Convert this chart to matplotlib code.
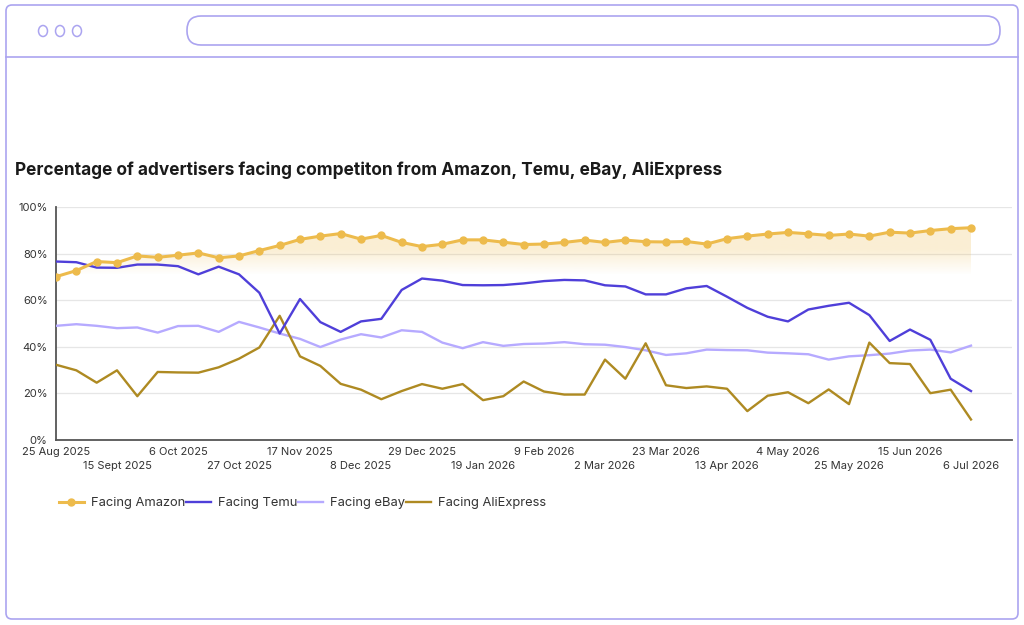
import numpy as np
import matplotlib
matplotlib.use("Agg")
import matplotlib.pyplot as plt
from matplotlib.patches import FancyBboxPatch, Ellipse, Polygon

plt.rcParams['font.family'] = ['Inter', 'DejaVu Sans']

# weekly data, 25 Aug 2025 -> 6 Jul 2026
week_labels = ["25 Aug 2025", "15 Sept 2025", "6 Oct 2025", "27 Oct 2025", "17 Nov 2025",
               "8 Dec 2025", "29 Dec 2025", "19 Jan 2026", "9 Feb 2026", "2 Mar 2026",
               "23 Mar 2026", "13 Apr 2026", "4 May 2026", "25 May 2026", "15 Jun 2026",
               "6 Jul 2026"]

amazon = [70.1, 72.7, 76.6, 76.1, 79.0, 78.4, 79.3, 80.3, 78.2, 79.0,
          81.3, 83.5, 86.1, 87.5, 88.6, 86.2, 87.8, 84.8, 83.0, 84.0,
          85.9, 85.9, 84.9, 83.9, 84.1, 84.8, 85.8, 84.8, 85.8, 85.1,
          85.0, 85.2, 84.1, 86.4, 87.5, 88.4, 89.1, 88.5, 87.8, 88.4,
          87.5, 89.2, 88.8, 89.9, 90.7, 91.1]
temu = [76.6, 76.3, 74.0, 73.9, 75.3, 75.3, 74.6, 71.1, 74.4, 71.1,
        63.2, 45.7, 60.5, 50.6, 46.4, 50.9, 52.0, 64.4, 69.3, 68.4,
        66.5, 66.4, 66.5, 67.2, 68.2, 68.7, 68.5, 66.4, 65.9, 62.5,
        62.5, 65.1, 66.1, 61.5, 56.7, 52.9, 50.9, 56.0, 57.6, 58.9,
        53.6, 42.5, 47.4, 43.0, 26.3, 21.0]
ebay = [49.0, 49.7, 49.0, 48.0, 48.3, 46.1, 48.9, 49.0, 46.4, 50.7,
        48.3, 45.7, 43.4, 39.9, 43.1, 45.4, 44.0, 47.1, 46.4, 41.8,
        39.4, 42.0, 40.4, 41.2, 41.4, 42.0, 41.1, 40.9, 39.9, 38.5,
        36.5, 37.2, 38.8, 38.6, 38.5, 37.5, 37.2, 36.8, 34.5, 35.9,
        36.4, 37.1, 38.4, 38.8, 37.6, 40.5]
aliexpress = [32.3, 29.9, 24.6, 29.9, 18.8, 29.2, 29.0, 28.9, 31.2, 34.9,
              39.7, 53.3, 35.9, 31.8, 24.1, 21.6, 17.5, 21.0, 24.0, 22.0,
              24.0, 17.1, 18.8, 25.1, 20.8, 19.5, 19.5, 34.5, 26.3, 41.5,
              23.5, 22.3, 23.0, 22.0, 12.4, 19.0, 20.5, 15.8, 21.7, 15.4,
              41.8, 33.0, 32.6, 20.1, 21.6, 8.8]

c_amazon = "#EDBB4C"
c_temu = "#4F3FD9"
c_ebay = "#B6AAFF"
c_ali = "#AE8A22"
c_frame = "#ABA4F0"

W, H = 1024, 625
fig = plt.figure(figsize=(W / 100, H / 100), dpi=100)

# browser frame
bg = fig.add_axes([0, 0, 1, 1])
bg.set_xlim(0, W)
bg.set_ylim(H, 0)
bg.axis("off")
bg.add_patch(FancyBboxPatch((6, 5), 1012, 614, boxstyle="round,pad=0,rounding_size=6",
                            fc="white", ec=c_frame, lw=1.2))
bg.plot([6, 1018], [57, 57], color=c_frame, lw=1.2)
for cx in (43, 60, 77):
    bg.add_patch(Ellipse((cx, 31), 9, 11, fc="none", ec=c_frame, lw=1.1))
bg.add_patch(FancyBboxPatch((187, 16), 813, 29, boxstyle="round,pad=0,rounding_size=14",
                            fc="none", ec=c_frame, lw=1.2))
bg.text(15, 170, "Percentage of advertisers facing competiton from Amazon, Temu, eBay, AliExpress",
        fontsize=12.45, fontweight="bold", color="#1a1a1a", va="center", ha="left")

# chart
ax = fig.add_axes([56 / W, (H - 440) / H, (1012 - 56) / W, (440 - 207) / H])
x = np.arange(len(amazon))
ax.set_xlim(0, (1012 - 56) / (915 / 45))
ax.set_ylim(0, 100)

# gradient fill under Amazon
poly = Polygon(np.column_stack([np.r_[x, x[::-1]], np.r_[amazon, [68] * len(x)]]),
               closed=True, fc="none", ec="none")
ax.add_patch(poly)
yy = np.linspace(68, 92, 200)
alpha = np.clip((yy - 71) / (82 - 71), 0, 1) * 0.24
grad = np.zeros((200, 1, 4))
grad[:, 0, :3] = matplotlib.colors.to_rgb(c_amazon)
grad[:, 0, 3] = alpha
im = ax.imshow(grad, extent=(0, x[-1], 68, 92), origin="lower", aspect="auto", zorder=1)
im.set_clip_path(poly)

ax.plot(x, amazon, color=c_amazon, lw=2.2, marker="o", ms=5, zorder=5, label="Facing Amazon")
ax.plot(x, temu, color=c_temu, lw=1.7, zorder=4, label="Facing Temu")
ax.plot(x, ebay, color=c_ebay, lw=1.7, zorder=3, label="Facing eBay")
ax.plot(x, aliexpress, color=c_ali, lw=1.7, zorder=3, label="Facing AliExpress")

ax.set_yticks([0, 20, 40, 60, 80, 100])
ax.set_yticklabels([f"{v}%" for v in [0, 20, 40, 60, 80, 100]])
ax.grid(axis="y", color="#e6e6e6", lw=0.9)
ax.set_axisbelow(True)

major = x[::6]
minor = x[3::6]
ax.set_xticks(major)
ax.set_xticklabels(week_labels[::2])
ax.set_xticks(minor, minor=True)
ax.set_xticklabels(week_labels[1::2], minor=True)
ax.tick_params(axis="x", which="major", length=0, pad=5, labelsize=8, colors="#333333")
ax.tick_params(axis="x", which="minor", length=0, pad=15, labelsize=8, colors="#333333")
ax.tick_params(axis="y", length=0, pad=6, labelsize=8, colors="#333333")

for s in ("top", "right"):
    ax.spines[s].set_visible(False)
ax.spines["left"].set_color("#555555")
ax.spines["bottom"].set_color("#555555")
ax.spines["left"].set_linewidth(1.3)
ax.spines["bottom"].set_linewidth(1.3)

leg = fig.legend(loc="center left", bbox_to_anchor=(47 / W, 1 - 503 / H), ncol=4,
                 frameon=False, fontsize=9.3, handlelength=1.95, handletextpad=0.55,
                 columnspacing=0.05, labelcolor="#333333")

fig.savefig("out.png", dpi=100)
